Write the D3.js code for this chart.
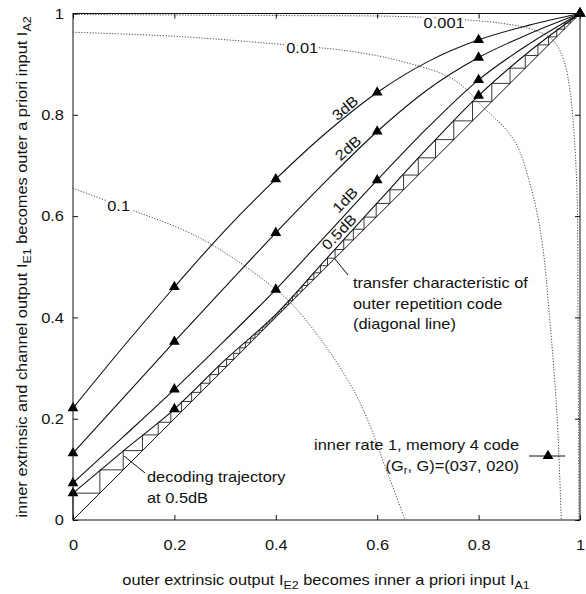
<!DOCTYPE html>
<html>
<head>
<meta charset="utf-8">
<script src="https://cdn.jsdelivr.net/npm/d3@7"></script>
<style>
  body { margin: 0; background: #fff; }
  svg { font-family: "Liberation Sans", Arial, Helvetica, sans-serif; }
  text { fill: #111; }
</style>
</head>
<body>
<svg id="chart" width="586" height="594"></svg>
<script>
// ---- data ----
var curveX   = [0, 0.1, 0.2, 0.3, 0.4, 0.5, 0.6, 0.7, 0.8, 0.9, 1];
var ie1_05dB = [0.053, 0.137, 0.219, 0.316, 0.406, 0.516, 0.626, 0.735, 0.838, 0.925, 1];
var ie1_1dB  = [0.073, 0.165, 0.258, 0.355, 0.455, 0.563, 0.671, 0.775, 0.869, 0.94, 1];
var ie1_2dB  = [0.132, 0.242, 0.352, 0.46, 0.567, 0.67, 0.767, 0.85, 0.913, 0.96, 1];
var ie1_3dB  = [0.221, 0.343, 0.46, 0.572, 0.673, 0.765, 0.844, 0.905, 0.948, 0.977, 1];
var snrLabels = ["0.5dB", "1dB", "2dB", "3dB"];

// x positions that carry a triangle marker, per curve
var markX_05dB = [0, 0.2, 0.8, 1];
var markX_all  = [0, 0.2, 0.4, 0.6, 0.8, 1];

// decoding trajectory at 0.5dB: successive I_A1 values of the staircase
var trajX = [0, 0.053, 0.099, 0.137, 0.168, 0.193, 0.214, 0.234, 0.252, 0.27, 0.287,
  0.303, 0.317, 0.329, 0.34, 0.35, 0.359, 0.367, 0.374, 0.381, 0.387, 0.393, 0.399,
  0.405, 0.411, 0.418, 0.425, 0.433, 0.442, 0.452, 0.463, 0.475, 0.488, 0.502, 0.517,
  0.534, 0.553, 0.574, 0.598, 0.625, 0.652, 0.681, 0.715, 0.751, 0.788, 0.826, 0.862,
  0.892, 0.917, 0.938, 0.954, 0.969, 0.981, 0.99, 0.996, 1];

// BER contours (dotted)
var ber01 = [[0, 0.655], [0.088, 0.622], [0.25, 0.557], [0.4, 0.455], [0.455, 0.4],
  [0.557, 0.25], [0.622, 0.088], [0.655, 0]];
var ber001 = [[0, 0.963], [0.2, 0.955], [0.4, 0.94], [0.55, 0.925], [0.65, 0.905], [0.75, 0.87],
  [0.812, 0.812], [0.87, 0.75], [0.905, 0.65], [0.925, 0.55], [0.94, 0.4], [0.955, 0.2], [0.963, 0]];
var ber0001 = [[0, 0.998], [0.4, 0.996], [0.65, 0.994], [0.78, 0.987], [0.85, 0.98], [0.908, 0.968],
  [0.947, 0.947], [0.968, 0.908], [0.98, 0.85], [0.987, 0.78], [0.994, 0.65], [0.996, 0.4], [0.998, 0]];
var berLabels = ["0.1", "0.01", "0.001"];

var tickVals = [0, 0.2, 0.4, 0.6, 0.8, 1];
var tickLabels = ["0", "0.2", "0.4", "0.6", "0.8", "1"];

// ---- layout ----
var SX = 1.13;   // the source font runs wider than Arial
var FS = 14.5;
var svg = d3.select("#chart");
var x = d3.scaleLinear().domain([0, 1]).range([73, 580]);
var y = d3.scaleLinear().domain([0, 1]).range([520, 13.5]);

svg.append("rect").attr("width", 586).attr("height", 594).attr("fill", "#fff");

function txt(parent, px, py, rot, anchor){
  return parent.append("text")
      .attr("transform", "translate(" + px + "," + py + ") rotate(" + (rot || 0) + ") scale(" + SX + ",1)")
      .attr("text-anchor", anchor || "start")
      .attr("font-size", FS);
}

var plot = svg.append("g");

// contours
var ptLine = d3.line()
    .x(function(d){ return x(d[0]); })
    .y(function(d){ return y(d[1]); });
[ber01, ber001, ber0001].forEach(function(c){
  plot.append("path")
      .attr("d", ptLine.curve(d3.curveCatmullRom)(c))
      .attr("fill", "none")
      .attr("stroke", "#333")
      .attr("stroke-width", 0.9)
      .attr("stroke-dasharray", "1.2,1.6");
});
var berPos = [[0.09, 0.621], [0.452, 0.933], [0.732, 0.981]];
berLabels.forEach(function(t, i){
  txt(plot, x(berPos[i][0]), y(berPos[i][1]), 0, "middle")
      .attr("dominant-baseline", "central")
      .attr("stroke", "#fff").attr("stroke-width", 5).attr("paint-order", "stroke")
      .text(t);
});

// diagonal (outer repetition code)
plot.append("path")
    .attr("d", ptLine.curve(d3.curveLinear)([[0, 0], [1, 1]]))
    .attr("stroke", "#111").attr("stroke-width", 1);

// staircase
var steps = [[trajX[0], trajX[0]]];
for (var k = 0; k < trajX.length - 1; k++) {
  steps.push([trajX[k], trajX[k+1]]);
  steps.push([trajX[k+1], trajX[k+1]]);
}
plot.append("path")
    .attr("d", ptLine.curve(d3.curveLinear)(steps))
    .attr("fill", "none")
    .attr("stroke", "#222")
    .attr("stroke-width", 0.9);

// EXIT curves
var curves = [ie1_05dB, ie1_1dB, ie1_2dB, ie1_3dB];
var exitLine = d3.line()
    .x(function(d, i){ return x(curveX[i]); })
    .y(function(d){ return y(d); })
    .curve(d3.curveMonotoneX);
curves.forEach(function(c, ci){
  plot.append("path")
      .attr("d", exitLine(c))
      .attr("fill", "none")
      .attr("stroke", "#111")
      .attr("stroke-width", 1.1);
  var mx = ci == 0 ? markX_05dB : markX_all;
  plot.selectAll(null)
      .data(mx)
      .enter().append("path")
      .attr("d", d3.symbol(d3.symbolTriangle).size(50))
      .attr("transform", function(v){
        return "translate(" + x(v) + "," + y(c[curveX.indexOf(v)]) + ")";
      })
      .attr("fill", "#000");
});

// curve labels
var snrPos = [[339, 232, -46], [345, 200, -46], [348, 148, -42], [345, 108, -40]];
snrLabels.forEach(function(t, i){
  txt(plot, snrPos[i][0], snrPos[i][1], snrPos[i][2], "middle")
      .attr("dominant-baseline", "central")
      .text(t);
});

// axes with inward mirror ticks
function ax(a, tr, lab, pad){
  var g = svg.append("g").attr("transform", tr)
      .call(a.tickValues(tickVals).tickSizeInner(-5).tickSizeOuter(0).tickPadding(pad)
        .tickFormat(function(d, i){ return lab ? tickLabels[i] : ""; }));
  g.select(".domain").remove();
  g.selectAll("line").attr("stroke", "#111");
  g.selectAll("text").attr("font-size", FS).attr("font-family", null).attr("fill", "#111")
      .attr("transform", "scale(" + SX + ",1)");
  return g;
}
ax(d3.axisBottom(x), "translate(0,520)", true, 20);
ax(d3.axisTop(x), "translate(0,13.5)", false, 3);
ax(d3.axisLeft(y), "translate(73,0)", true, 8);
ax(d3.axisRight(y), "translate(580,0)", false, 3);

svg.append("rect")
    .attr("x", 73).attr("y", 13.5).attr("width", 507).attr("height", 506.5)
    .attr("fill", "none").attr("stroke", "#111").attr("stroke-width", 1);

// axis titles
var xt = txt(svg, 326, 585, 0, "middle");
xt.append("tspan").text("outer extrinsic output I");
xt.append("tspan").attr("font-size", 11).attr("dy", 4).text("E2");
xt.append("tspan").attr("dy", -4).text(" becomes inner a priori input I");
xt.append("tspan").attr("font-size", 11).attr("dy", 4).text("A1");

var yt = txt(svg, 27, 267, -90, "middle");
yt.append("tspan").text("inner extrinsic and channel output I");
yt.append("tspan").attr("font-size", 11).attr("dy", 4).text("E1");
yt.append("tspan").attr("dy", -4).text(" becomes outer a priori input I");
yt.append("tspan").attr("font-size", 11).attr("dy", 4).text("A2");

// annotations
function lines(x0, y0, arr, anchor){
  arr.forEach(function(t, i){
    txt(svg, x0, y0 + i * 20.5, 0, anchor).text(t);
  });
}
svg.append("line").attr("x1", 124).attr("y1", 456).attr("x2", 145).attr("y2", 473)
    .attr("stroke", "#111");
lines(147, 482, ["decoding trajectory", "at 0.5dB"]);
svg.append("line").attr("x1", 335).attr("y1", 259).attr("x2", 348).attr("y2", 275)
    .attr("stroke", "#111");
lines(353, 288, ["transfer characteristic of", "outer repetition code", "(diagonal line)"]);

// legend
txt(svg, 519, 450, 0, "end").text("inner rate 1, memory 4 code");
var lg = txt(svg, 519, 471, 0, "end");
lg.append("tspan").text("(G");
lg.append("tspan").attr("font-size", 10).attr("dy", 3).text("r");
lg.append("tspan").attr("dy", -3).text(", G)=(037, 020)");
svg.append("line").attr("x1", 529).attr("y1", 456).attr("x2", 565).attr("y2", 456)
    .attr("stroke", "#111").attr("stroke-width", 1.1);
svg.append("path").attr("d", d3.symbol(d3.symbolTriangle).size(50))
    .attr("transform", "translate(548,456)").attr("fill", "#000");
</script>
</body>
</html>
